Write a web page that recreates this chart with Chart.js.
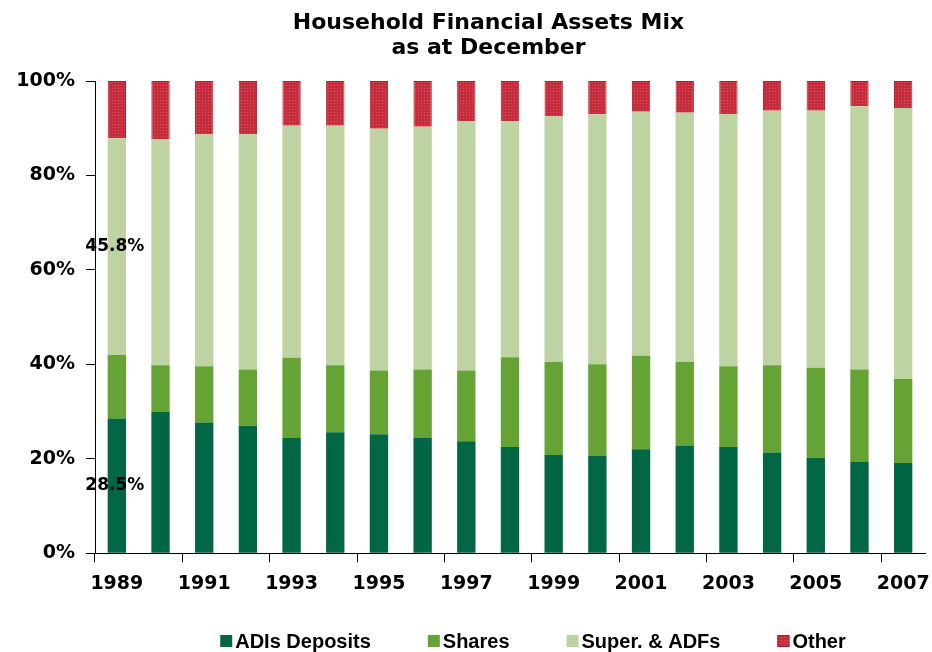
<!DOCTYPE html>
<html><head><meta charset="utf-8">
<script src="https://cdn.jsdelivr.net/npm/chart.js@4/dist/chart.umd.min.js"></script>
<style>html,body{margin:0;padding:0;background:#fff;overflow:hidden}</style>
</head><body>
<canvas id="c" width="932" height="652"></canvas>
<script>
// ---- data (percent of household financial assets, as at December) ----
const years = ['1989','1990','1991','1992','1993','1994','1995','1996','1997','1998','1999','2000','2001','2002','2003','2004','2005','2006','2007'];
const adisDeposits = [28.5,29.9,27.7,27.0,24.4,25.6,25.2,24.4,23.7,22.5,20.8,20.6,22.0,22.8,22.5,21.3,20.2,19.3,19.1];
const shares       = [13.5, 9.9,11.9,11.9,17.0,14.2,13.5,14.5,15.0,19.0,19.7,19.4,19.8,17.7,17.1,18.5,19.1,19.6,17.8];
const superADFs    = [45.8,47.8,49.2,49.9,49.1,50.7,51.2,51.4,52.8,50.0,52.1,52.9,51.7,52.8,53.3,53.9,54.4,55.7,57.4];
const other        = [12.2,12.4,11.2,11.2, 9.5, 9.5,10.1, 9.7, 8.5, 8.5, 7.4, 7.1, 6.5, 6.7, 7.1, 6.3, 6.3, 5.4, 5.7];
const seriesNames  = ['ADIs Deposits','Shares','Super. & ADFs','Other'];
const yTickValues  = [0,20,40,60,80,100];
const titleLines   = ['Household Financial Assets Mix','as at December'];
// data labels shown on the chart: [series index, category index]
const labelledPoints = [[0,0],[2,0]];

// dotted red fill for "Other"
function makePattern(){
  const p = document.createElement('canvas');
  p.width = 3; p.height = 3;
  const g = p.getContext('2d');
  g.fillStyle = '#c52d3c'; g.fillRect(0,0,3,3);
  g.fillStyle = '#d9525f'; g.fillRect(1,1,1,1);
  return g.createPattern(p,'repeat');
}
const redPattern = makePattern();

const colors = ['#006643','#66a335','#bdd3a2',redPattern];
const borders = ['#006643','#66a335','#bdd3a2','#b8192b'];
const seriesData = [adisDeposits, shares, superADFs, other];

Chart.defaults.font.family = "'DejaVu Sans', Verdana, sans-serif";
Chart.defaults.font.weight = 'bold';
Chart.defaults.color = '#000';

const valueLabels = {
  id: 'valueLabels',
  afterDatasetsDraw(chart){
    const ctx = chart.ctx;
    ctx.save();
    ctx.font = "bold 17px 'DejaVu Sans'";
    ctx.fillStyle = '#000';
    ctx.textAlign = 'center';
    ctx.textBaseline = 'middle';
    labelledPoints.forEach(([s,i])=>{
      const el = chart.getDatasetMeta(s).data[i];
      const v = chart.data.datasets[s].data[i];
      ctx.fillText(v.toFixed(1)+'%', el.x - 2, (el.y + el.base)/2);
    });
    ctx.restore();
  }
};

// two-line title
const titlePlugin = {
  id: 'titleText',
  afterDraw(chart){
    const ctx = chart.ctx;
    ctx.save();
    ctx.font = "bold 22px 'DejaVu Sans'";
    ctx.fillStyle = '#000';
    ctx.textAlign = 'center';
    ctx.textBaseline = 'middle';
    const cx = (chart.chartArea.left + chart.width) / 2 - 25;
    titleLines.forEach((t,k)=> ctx.fillText(t, cx, 23 + k*25));
    ctx.restore();
  }
};

// legend row under the chart, built from the datasets
const legendRow = {
  id: 'legendRow',
  afterDraw(chart){
    const ctx = chart.ctx;
    ctx.save();
    ctx.font = "bold 20px 'Liberation Sans', Arial, sans-serif";
    ctx.textBaseline = 'middle';
    ctx.textAlign = 'left';
    const box = 12, gapText = 3, gapItem = 57, cy = 641;
    const items = chart.data.datasets.map(ds => ({ds, w: ctx.measureText(ds.label).width}));
    const total = items.reduce((a,it)=>a + box + gapText + it.w, 0) + gapItem*(items.length-1);
    let x = 533 - total/2;
    items.forEach(({ds,w})=>{
      ctx.fillStyle = ds.backgroundColor;
      ctx.fillRect(x, cy - box/2, box, box);
      if (ds.borderWidth) { ctx.strokeStyle = ds.borderColor; ctx.lineWidth = 1; ctx.strokeRect(x+0.5, cy - box/2 + 0.5, box-1, box-1); }
      ctx.fillStyle = '#000';
      ctx.fillText(ds.label, x + box + gapText, cy + 1);
      x += box + gapText + w + gapItem;
    });
    ctx.restore();
  }
};

new Chart(document.getElementById('c'), {
  type: 'bar',
  data: {
    labels: years,
    datasets: seriesData.map((d,k)=>({
      label: seriesNames[k],
      data: d,
      backgroundColor: colors[k],
      borderColor: borders[k],
      borderWidth: k===3 ? 1 : 0,
      categoryPercentage: 1.0,
      barPercentage: 0.42
    }))
  },
  options: {
    responsive: false,
    animation: false,
    layout: { padding: { left: 0, right: 7, top: 81, bottom: 47 } },
    plugins: {
      title: { display: false },
      legend: { display: false },
      tooltip: { enabled: false }
    },
    scales: {
      x: {
        stacked: true,
        border: { display: true, color: '#000', width: 1 },
        grid: {
          offset: true, drawOnChartArea: false, drawTicks: true, tickLength: 9,
          color: c => (c.index % 2 === 0 ? '#000' : 'rgba(0,0,0,0)')
        },
        afterFit: s => { s.paddingLeft = 0; s.paddingRight = 0; },
        ticks: {
          autoSkip: false, maxRotation: 0, padding: 10,
          font: { size: 19, weight: 'bold' },
          callback: (v,i) => (i % 2 === 0 ? years[i] : '')
        }
      },
      y: {
        stacked: true, min: 0, max: 100,
        border: { display: true, color: '#000', width: 1 },
        grid: { drawOnChartArea: false, drawTicks: true, tickLength: 9, color: '#000' },
        afterBuildTicks: s => { s.ticks = yTickValues.map(v=>({value:v})); },
        afterFit: s => { s.width = 95; },
        ticks: {
          padding: 11,
          font: { size: 19, weight: 'bold' },
          callback: v => v + '%'
        }
      }
    }
  },
  plugins: [valueLabels, titlePlugin, legendRow]
});
</script>
</body></html>
